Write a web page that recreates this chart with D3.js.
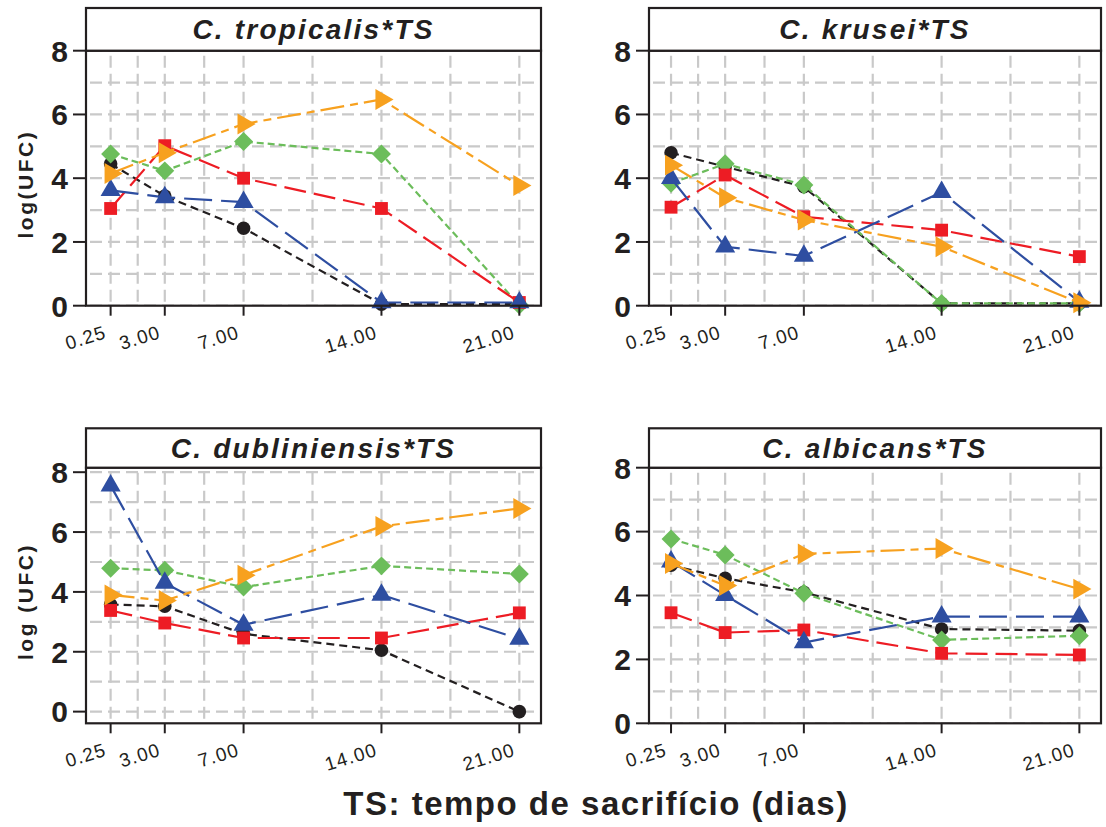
<!DOCTYPE html>
<html>
<head>
<meta charset="utf-8">
<script src="https://cdn.jsdelivr.net/npm/d3@7"></script>
<style>
  body { margin: 0; background: #fff; }
  svg { display: block; }
</style>
</head>
<body>
<script>
// sacrifice times (days) and their tick labels
const days = [0.25, 3, 7, 14, 21];
const dayLabels = ["0.25", "3.00", "7.00", "14.00", "21.00"];
const gridDays = [0.25, 1.625, 3, 5, 7, 10.5, 14, 17.5, 21];
const yTicks = [0, 2, 4, 6, 8];
const yGrid = [0, 1, 2, 3, 4, 5, 6, 7, 8];

// each panel: rows = black, red, blue, green, orange series
const tropicalis = [
  [4.45, 3.44, 2.43, 0.05, 0.05],
  [3.05, 5.02, 4.0, 3.05, 0.1],
  [3.62, 3.4, 3.25, 0.1, 0.1],
  [4.76, 4.23, 5.15, 4.76, 0.02],
  [4.15, 4.8, 5.7, 6.47, 3.77]
];
const krusei = [
  [4.8, 4.36, 3.73, 0.07, 0.07],
  [3.09, 4.1, 2.79, 2.37, 1.54],
  [4.0, 1.85, 1.56, 3.56, 0.12],
  [3.84, 4.45, 3.79, 0.07, 0.07],
  [4.41, 3.39, 2.69, 1.85, 0.09]
];
const dubliniensis = [
  [3.58, 3.52, 2.6, 2.05, 0],
  [3.38, 2.96, 2.46, 2.46, 3.3],
  [7.55, 4.3, 2.9, 3.9, 2.43],
  [4.79, 4.72, 4.16, 4.87, 4.6],
  [3.9, 3.71, 4.56, 6.19, 6.79]
];
const albicans = [
  [4.95, 4.54, 4.1, 2.95, 2.9],
  [3.46, 2.84, 2.92, 2.19, 2.14],
  [5.06, 4.01, 2.53, 3.34, 3.34],
  [5.77, 5.27, 4.07, 2.61, 2.74],
  [5.0, 4.31, 5.3, 5.47, 4.2]
];

const titles = ["C. tropicalis*TS", "C. krusei*TS", "C. dubliniensis*TS", "C. albicans*TS"];
const yLabels = ["log(UFC)", null, "log (UFC)", null];
const xTitle = "TS: tempo de sacrifício (dias)";

const width = 1106, height = 827;
const ink = "#231f20";

// series look: colour, marker, dash
const colors = ["#231f20", "#ed1c24", "#2e4ea1", "#6cbd5b", "#f7a11f"];
const dashes = ["8,5", "22,8", "28,9", "7,4", "24,6,8,6"];
const symbols = [
  d3.symbol(d3.symbolCircle, 145),
  d3.symbol(d3.symbolSquare, 165),
  d3.symbol(d3.symbolTriangle, 175),
  d3.symbol(d3.symbolSquare, 180),
  d3.symbol(d3.symbolTriangle, 190)
];
const rotations = [0, 0, 0, 45, 90];
const drawOrder = [0, 3, 1, 2, 4];

const panels = [
  {data: tropicalis, left: 86, right: 541, top: 8, strip: 50.7, bottom: 305.7, xd: [-1, 22.1], yd: [0, 8]},
  {data: krusei, left: 649, right: 1101, top: 8, strip: 50.7, bottom: 305.7, xd: [-0.87, 22.1], yd: [0, 8]},
  {data: dubliniensis, left: 86, right: 541, top: 428.3, strip: 467.7, bottom: 723.3, xd: [-1, 22.1], yd: [-0.39, 8.15]},
  {data: albicans, left: 649, right: 1101, top: 428.3, strip: 467.7, bottom: 723.3, xd: [-0.87, 22.1], yd: [0, 8]}
];

const svg = d3.select("body").append("svg")
    .attr("width", width)
    .attr("height", height)
    .style("font-family", "'Liberation Sans', Arial, sans-serif");

panels.forEach((p, i) => {
  const x = d3.scaleLinear().domain(p.xd).range([p.left, p.right]);
  const y = d3.scaleLinear().domain(p.yd).range([p.bottom, p.strip]);
  const g = svg.append("g");

  g.append("defs").append("clipPath")
      .attr("id", "clip" + i)
    .append("rect")
      .attr("x", p.left).attr("y", p.strip)
      .attr("width", p.right - p.left).attr("height", p.bottom - p.strip);

  // dashed grid
  const grid = g.append("g")
      .attr("clip-path", `url(#clip${i})`)
      .attr("stroke", "#c9c9c9")
      .attr("stroke-width", 2.2)
      .attr("stroke-dasharray", "12,6");
  grid.selectAll(".gv")
    .data(gridDays)
    .join("line")
      .attr("x1", d => x(d)).attr("x2", d => x(d))
      .attr("y1", p.strip + 5).attr("y2", p.bottom);
  grid.selectAll(".gh")
    .data(yGrid)
    .join("line")
      .attr("x1", p.left + 4).attr("x2", p.right)
      .attr("y1", d => y(d)).attr("y2", d => y(d));

  // series
  const line = d3.line()
      .x((d, j) => x(days[j]))
      .y(d => y(d));
  drawOrder.forEach(s => {
    const vals = p.data[s];
    g.append("path")
        .attr("d", line(vals))
        .attr("fill", "none")
        .attr("stroke", colors[s])
        .attr("stroke-width", 2.2)
        .attr("stroke-dasharray", dashes[s]);
    g.append("g")
      .selectAll("path")
      .data(vals)
      .join("path")
        .attr("d", symbols[s])
        .attr("transform", (d, j) => `translate(${x(days[j])},${y(d)}) rotate(${rotations[s]})`)
        .attr("fill", colors[s]);
  });

  // frame and title strip
  g.append("rect")
      .attr("x", p.left).attr("y", p.strip)
      .attr("width", p.right - p.left).attr("height", p.bottom - p.strip)
      .attr("fill", "none")
      .attr("stroke", ink)
      .attr("stroke-width", 2.2);
  g.append("rect")
      .attr("x", p.left).attr("y", p.top)
      .attr("width", p.right - p.left).attr("height", p.strip - p.top)
      .attr("fill", "#fff")
      .attr("stroke", ink)
      .attr("stroke-width", 2.2);
  g.append("text")
      .attr("x", (p.left + p.right) / 2)
      .attr("y", (p.top + p.strip) / 2)
      .attr("dy", "0.36em")
      .attr("text-anchor", "middle")
      .attr("fill", ink)
      .style("font-size", "28px")
      .style("font-weight", "bold")
      .style("font-style", "italic")
      .style("letter-spacing", "2.2px")
      .text(titles[i]);

  // y axis
  const ya = g.append("g");
  ya.selectAll("line")
    .data(yTicks)
    .join("line")
      .attr("x1", p.left - 13).attr("x2", p.left)
      .attr("y1", d => y(d)).attr("y2", d => y(d))
      .attr("stroke", ink)
      .attr("stroke-width", 2);
  ya.selectAll("text")
    .data(yTicks)
    .join("text")
      .attr("x", p.left - 18)
      .attr("y", d => y(d))
      .attr("dy", "0.36em")
      .attr("text-anchor", "end")
      .attr("fill", ink)
      .style("font-size", "30px")
      .style("font-weight", "bold")
      .text(d => d);

  // x axis
  const xa = g.append("g");
  xa.selectAll("line")
    .data(days)
    .join("line")
      .attr("x1", d => x(d)).attr("x2", d => x(d))
      .attr("y1", p.bottom).attr("y2", p.bottom + 10)
      .attr("stroke", ink)
      .attr("stroke-width", 2);
  xa.selectAll("text")
    .data(days)
    .join("text")
      .attr("transform", d => `translate(${x(d) - 3},${p.bottom + 32}) rotate(-17)`)
      .attr("text-anchor", "end")
      .attr("fill", ink)
      .style("font-size", "19px")
      .style("letter-spacing", "1.2px")
      .text((d, j) => dayLabels[j]);

  if (yLabels[i]) {
    g.append("text")
        .attr("transform", `translate(25,${(p.strip + p.bottom) / 2 + 6}) rotate(-90)`)
        .attr("dy", "0.36em")
        .attr("text-anchor", "middle")
        .attr("fill", ink)
        .style("font-size", "21px")
        .style("font-weight", "bold")
        .style("letter-spacing", "2.5px")
        .text(yLabels[i]);
  }
});

svg.append("text")
    .attr("x", 596)
    .attr("y", 815)
    .attr("text-anchor", "middle")
    .attr("fill", ink)
    .style("font-size", "33px")
    .style("font-weight", "bold")
    .style("letter-spacing", "1.5px")
    .text(xTitle);
</script>
</body>
</html>
